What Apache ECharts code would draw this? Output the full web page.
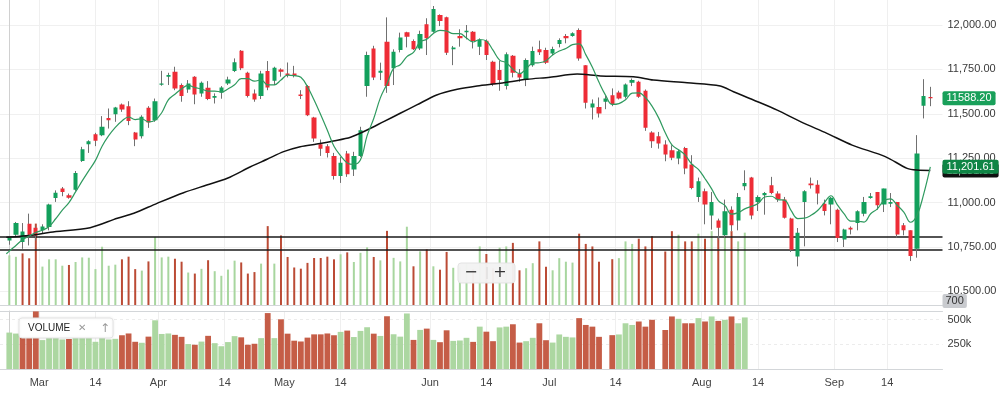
<!DOCTYPE html>
<html><head><meta charset="utf-8">
<script src="https://cdn.jsdelivr.net/npm/echarts@6/dist/echarts.min.js"></script>
<style>html,body{margin:0;padding:0;background:#fff}#c{width:1000px;height:394px}</style>
</head><body><div id="c"></div>
<script>
// ---- DATA (one entry per trading slot, index 0..139) ----
const open = [
10787,10819,10778,10881,10859,10844,10863,11026,11079,11041,
11073,11235,11329,11385,11380,11477,11498,11553,11543,11395,
11374,11534,11464,11663,11709,11737,11662,11637,11709,11615,
11647,11590,11618,11671,11741,11855,11731,11615,11601,11741,
11686,11750,11727,11727,11609,11656,11479,11329,11318,11263,
11150,11276,11186,11263,11656,11868,11731,11906,11756,11859,
11959,11910,11868,12004,11962,12056,12043,11863,11938,11959,
11962,11878,11912,11793,11746,11656,11827,11727,11690,11774,
11863,11859,11840,11893,11938,11938,11972,11774,11536,11539,
11568,11605,11620,11596,11675,11680,11630,11395,11374,11327,
11295,11248,11308,11214,11032,11064,10928,10900,10816,10960,
10900,11092,11141,11004,11041,11098,11051,11017,10910,10697,
11004,11107,11101,10994,10989,10960,10793,10859,10885,10938,
11026,11060,10990,10994,11004,10872,10844,10740,11545,11595];
const close = [
10801,10885,10838,10819,10815,10866,10990,11056,11060,11028,
11167,11301,11346,11348,11427,11464,11536,11524,11460,11355,
11483,11451,11571,11670,11718,11643,11600,11671,11609,11675,
11583,11601,11648,11693,11791,11756,11600,11581,11727,11648,
11759,11737,11718,11714,11601,11492,11361,11304,11280,11150,
11224,11160,11263,11408,11831,11705,11742,11656,11850,11929,
11934,11863,11949,11925,12090,12023,11844,11874,11925,11968,
11910,11915,11831,11667,11690,11836,11731,11705,11803,11853,
11846,11788,11865,11915,11925,11953,11812,11562,11558,11502,
11586,11555,11586,11665,11690,11596,11421,11346,11333,11271,
11252,11289,11192,11083,11120,10989,11003,10859,10951,10872,
11032,11111,10928,11032,11054,11054,11017,10915,10735,10831,
11064,11098,11051,10953,11028,10801,10848,10848,10951,11004,
11036,10985,11079,11004,10821,10844,10699.85,11276,11600,11588.2];
const low = [
10763,10810,10740,10759,10787,10825,10844,11004,11036,11022,
11066,11229,11280,11318,11374,11417,11455,11511,11436,11318,
11361,11421,11455,11658,11662,11633,11568,11618,11554,11596,
11577,11558,11585,11662,11735,11746,11592,11568,11583,11633,
11662,11709,11705,11705,11583,11487,11342,11263,11254,11130,
11111,11145,11150,11257,11596,11690,11690,11618,11662,11846,
11874,11859,11859,11831,11957,11994,11831,11774,11878,11919,
11868,11831,11803,11656,11630,11637,11705,11680,11656,11765,
11831,11780,11831,11874,11897,11934,11799,11530,11468,11479,
11526,11543,11581,11586,11656,11590,11404,11308,11304,11233,
11239,11216,11160,11075,11004,10878,10848,10791,10802,10840,
10844,11070,10906,10953,10932,11047,11004,10910,10722,10641,
10754,11079,10990,10928,10878,10778,10750,10821,10844,10923,
11022,10960,10947,10975,10802,10816,10671,10690,11474,11543];
const high = [
10810,10891,10885,10938,10866,10878,10994,11069,11088,11051,
11178,11314,11351,11393,11487,11530,11539,11558,11571,11398,
11492,11543,11586,11742,11731,11765,11671,11690,11712,11682,
11684,11615,11656,11709,11812,11859,11737,11637,11742,11797,
11765,11756,11789,11770,11633,11662,11483,11355,11329,11280,
11257,11291,11286,11427,11850,11883,11788,12043,11863,11957,
11962,11919,11968,12038,12107,12060,12047,11882,11976,12000,
11966,11925,11919,11799,11799,11846,11831,11752,11812,11878,
11912,11872,11878,11925,11949,11959,11981,11774,11581,11592,
11600,11643,11630,11671,11699,11686,11637,11402,11398,11351,
11323,11299,11314,11267,11141,11079,11060,10910,11017,10979,
11054,11182,11145,11041,11060,11145,11064,11032,10915,10857,
11070,11141,11126,11017,11032,10966,10853,10866,10957,11032,
11054,11060,11079,11054,11004,10885,10844,11380,11695,11652];
// volume for the first 112 slots (null = no bar)
const volume = [
368000,358000,381000,348000,582000,292000,341000,341000,298000,303000,
323000,354000,352000,275000,426000,298000,305000,341000,359000,275000,
265000,327000,492000,354000,359000,345000,325000,252000,245000,277000,
335000,261000,230000,272000,332000,320000,245000,255000,312000,565000,
312000,502000,357000,286000,278000,317000,350000,350000,359000,341000,
375000,388000,323000,385000,422000,357000,334000,533000,351000,327000,
561000,294000,395000,408000,294000,271000,391000,284000,288000,315000,
274000,428000,377000,281000,420000,428000,452000,267000,281000,315000,
462000,291000,267000,349000,325000,319000,514000,445000,428000,325000,
null,342000,349000,462000,445000,480000,428000,497000,null,394000,
531000,507000,462000,462000,514000,480000,531000,486000,497000,531000,
462000,521000];
const lastVolume = 700;
// 5-period average before enough visible history exists
const ma5LeadSlots = [-0.45, 0, 1, 2, 3];
const ma5LeadValues = [10712, 10727, 10759, 10791, 10812];
// long moving average (black), read at these slots
const longMaSlots = [-0.45,3.7,6.2,12.2,16.3,18.8,22.3,26.3,29.8,32.9,36.4,38.9,41.4,43.9,46.4,48.9,51.5,54,56.5,59,61.5,64.5,67.6,70.6,74.1,78.1,81.6,85.7,89.2,94.2,97.2,102.3,107.3,109.3,112.3,115.9,119.4,123.4,127.2,132.2,135.5,137,139];
const longMaValues = [10805,10818,10833,10859,10912,10940,10996,11056,11099,11137,11202,11244,11287,11315,11330,11347,11368,11409,11456,11503,11550,11606,11638,11657,11672,11694,11706,11724,11713,11709,11690,11675,11657,11624,11578,11521,11456,11390,11324,11259,11193,11183,11181];
const levelLines = [10807, 10736];
const priceTicks = [10500, 10750, 11000, 11250, 11500, 11750, 12000];
const volumeTicks = [250000, 500000];
const xTickSlots = [4.5, 13, 22.5, 32.5, 41.5, 50, 63.5, 72, 81.5, 91.5, 104.5, 113, 124.5, 132.5];
const xTickLabels = ['Mar','14','Apr','14','May','14','Jun','14','Jul','14','Aug','14','Sep','14'];

// ---- build ----
const n = close.length;
const candleData = close.map((c, i) => [i, open[i], c, low[i], high[i]]);
const ma5 = ma5LeadSlots.map((s, i) => [s, ma5LeadValues[i]]);
for (let i = 4; i < n; i++) {
  let s = 0; for (let k = i - 4; k <= i; k++) s += close[k];
  ma5.push([i, s / 5]);
}
const longMa = longMaSlots.map((s, i) => [s, longMaValues[i]]);
const volData = [];
volume.forEach((v, i) => { if (v != null) volData.push([i, v]); });
const isUp = i => i === 0 ? close[0] >= open[0] : close[i] >= close[i - 1];

function fmt(v) {
  const s = v.toFixed(2); const p = s.split('.');
  return p[0].replace(/\B(?=(\d{3})+(?!\d))/g, ',') + '.' + p[1];
}
const FONT = '"Liberation Sans", Arial, sans-serif';
const UP = '#12a05c', DOWN = '#ee2c36', WICK = '#707070';
const VUP = '#a8d69f', VDOWN = '#bb4b35';
const VUP2 = '#acd7a1', VDOWN2 = '#c55d47';
const X_MIN = -1.405, X_MAX = 140.84;
const GRID_RIGHT = 57.5;
const THIN_VOL_MIN = 33000, THIN_VOL_MAX = 2090000;
const HIDDEN_LINE = {color: 'rgba(0,0,0,0)', width: 0.01};

const chart = echarts.init(document.getElementById('c'), null, {renderer: 'canvas'});
const lastMa5 = ma5[ma5.length - 1][1];
const lastLong = longMaValues[longMaValues.length - 1];

function badge(bg, fg) {
  return {show: true, position: 'end', distance: 0, color: fg, fontSize: 11, fontFamily: FONT,
          backgroundColor: bg, padding: [2, 4, 1, 4], borderRadius: 2};
}

chart.setOption({
  animation: false,
  backgroundColor: '#ffffff',
  textStyle: {fontFamily: FONT},
  grid: [
    {left: 0, right: GRID_RIGHT, top: 0, height: 305, outerBoundsMode: 'none', containLabel: false},
    {left: 0, right: GRID_RIGHT, top: 311, height: 58, outerBoundsMode: 'none', containLabel: false}
  ],
  xAxis: [
    {type: 'value', gridIndex: 0, min: X_MIN, max: X_MAX, scale: true,
     axisLine: {show: true, onZero: false, lineStyle: {color: '#d3d6d9', width: 1}},
     axisTick: {show: false, customValues: xTickSlots},
     axisLabel: {show: false, customValues: xTickSlots},
     splitLine: {show: true, lineStyle: {color: '#efefef', width: 1}}},
    {type: 'value', gridIndex: 1, min: X_MIN, max: X_MAX, scale: true, position: 'bottom',
     axisLine: {show: true, onZero: false, lineStyle: {color: '#d3d6d9', width: 1}},
     axisTick: {show: false, customValues: xTickSlots},
     axisLabel: {show: true, customValues: xTickSlots, margin: 8, color: '#444', fontSize: 11, fontFamily: FONT,
                 formatter: v => { const k = xTickSlots.findIndex(t => Math.abs(t - v) < 1e-6); return k >= 0 ? xTickLabels[k] : ''; }},
     splitLine: {show: true, lineStyle: {color: '#efefef', width: 1}}},
    {type: 'value', gridIndex: 1, min: X_MIN, max: X_MAX, position: 'top',
     axisLine: {show: true, onZero: false, lineStyle: {color: '#d3d6d9', width: 1}},
     axisTick: {show: false}, axisLabel: {show: false}, splitLine: {show: false}}
  ],
  yAxis: [
    {type: 'value', gridIndex: 0, position: 'right', min: 10423.6, max: 12140.8,
     axisLine: {show: true, lineStyle: {color: '#d0d0d0'}},
     axisTick: {show: false, customValues: priceTicks},
     axisLabel: {margin: 5, color: '#3a3a3a', fontSize: 11, fontFamily: FONT, customValues: priceTicks,
                 formatter: v => fmt(v)},
     splitLine: {show: true, lineStyle: {color: '#f0f0f0'}}},
    {type: 'value', gridIndex: 0, position: 'right', min: THIN_VOL_MIN, max: THIN_VOL_MAX, show: false,
     splitLine: {show: false}},
    {type: 'value', gridIndex: 1, position: 'right', min: 0, max: 586000,
     axisLine: {show: true, lineStyle: {color: '#d0d0d0'}},
     axisTick: {show: false, customValues: volumeTicks},
     axisLabel: {margin: 5, color: '#3a3a3a', fontSize: 11, fontFamily: FONT, customValues: volumeTicks,
                 formatter: v => (v / 1000) + 'k'},
     splitLine: {show: true, lineStyle: {color: '#ececec', type: [3, 3]}}}
  ],
  series: [
    {type: 'bar', name: 'vol-thin', xAxisIndex: 0, yAxisIndex: 1, data: volData, barWidth: 2, z: 1, clip: true,
     itemStyle: {color: p => isUp(p.data[0]) ? VUP : VDOWN},
     markLine: {silent: true, symbol: 'none', z: 6, data: [{yAxis: Math.max(lastVolume, THIN_VOL_MIN)}],
       lineStyle: HIDDEN_LINE,
       label: Object.assign(badge('#c9cbcf', '#333'), {formatter: String(lastVolume), padding: [2, 3, 1, 3], offset: [0, -4]})}},
    {type: 'bar', name: 'vol', xAxisIndex: 1, yAxisIndex: 2, data: volData, barWidth: 5.8, z: 1,
     itemStyle: {color: p => isUp(p.data[0]) ? VUP2 : VDOWN2}},
    {type: 'candlestick', name: 'wick', xAxisIndex: 0, yAxisIndex: 0, data: candleData, encode: {x: 0, y: [1, 2, 3, 4]},
     barWidth: 1, z: 3,
     itemStyle: {color: WICK, color0: WICK, borderColor: WICK, borderColor0: WICK, borderWidth: 1},
     markLine: {silent: true, symbol: 'none', z: 3, label: {show: false},
       lineStyle: {color: '#1a1a1a', width: 1.5, type: 'solid'},
       data: levelLines.map(v => ({yAxis: v}))}},
    {type: 'candlestick', name: 'body', xAxisIndex: 0, yAxisIndex: 0, data: candleData, encode: {x: 0, y: [1, 2, 3, 4]},
     barWidth: 4.8, z: 4,
     itemStyle: {color: UP, color0: DOWN, borderColor: UP, borderColor0: DOWN, borderWidth: 0},
     markLine: {silent: true, symbol: 'none', z: 9, data: [{yAxis: close[n - 1]}],
       lineStyle: HIDDEN_LINE,
       label: Object.assign(badge('#19a05a', '#fff'), {formatter: close[n - 1].toFixed(2)})}},
    {type: 'line', name: 'long ma', xAxisIndex: 0, yAxisIndex: 0, data: longMa, smooth: 0.3, showSymbol: false, z: 5,
     lineStyle: {color: '#111', width: 1.5},
     markLine: {silent: true, symbol: 'none', z: 7, data: [{yAxis: lastLong}],
       lineStyle: HIDDEN_LINE,
       label: Object.assign(badge('#111', '#fff'), {formatter: fmt(lastLong)})}},
    {type: 'line', name: 'ma5', xAxisIndex: 0, yAxisIndex: 0, data: ma5, smooth: 0.4, showSymbol: false, z: 6,
     lineStyle: {color: '#2f9a5f', width: 1.2},
     markLine: {silent: true, symbol: 'none', z: 8, data: [{yAxis: lastMa5}],
       lineStyle: HIDDEN_LINE,
       label: Object.assign(badge('#0f8545', '#fff'), {formatter: fmt(lastMa5)})}}
  ],
  graphic: {elements: [
    {type: 'group', x: 19, y: 318, z: 100, children: [
      {type: 'rect', z: 100, shape: {x: 0, y: 0, width: 94, height: 20, r: 3},
       style: {fill: '#ffffff', stroke: '#e4e4e4', lineWidth: 1, shadowBlur: 3, shadowColor: 'rgba(0,0,0,0.08)'}},
      {type: 'text', z: 101, x: 9, y: 10.5, style: {text: 'VOLUME', fill: '#222', font: '10px ' + FONT, verticalAlign: 'middle', textVerticalAlign: 'middle'}},
      {type: 'text', z: 101, x: 59, y: 10.5, style: {text: '✕', fill: '#9a9a9a', font: '10px "DejaVu Sans"', verticalAlign: 'middle', textVerticalAlign: 'middle'}},
      {type: 'text', z: 101, x: 81, y: 10.5, style: {text: '↑', fill: '#9a9a9a', font: '12px "DejaVu Sans"', verticalAlign: 'middle', textVerticalAlign: 'middle'}}
    ]},
    {type: 'group', x: 458, y: 263, z: 100, children: [
      {type: 'rect', z: 100, shape: {x: 0, y: 0, width: 57, height: 20, r: 3},
       style: {fill: 'rgba(243,243,243,0.97)', stroke: 'rgba(225,225,225,0.9)', lineWidth: 1}},
      {type: 'text', z: 101, x: 13, y: 10, style: {text: '−', fill: '#333', font: '16px "DejaVu Sans"', verticalAlign: 'middle', textVerticalAlign: 'middle', align: 'center', textAlign: 'center'}},
      {type: 'line', z: 101, shape: {x1: 29, y1: 4, x2: 29, y2: 16}, style: {stroke: '#d8d8d8', lineWidth: 1}},
      {type: 'text', z: 101, x: 42, y: 10, style: {text: '+', fill: '#333', font: '16px "DejaVu Sans"', verticalAlign: 'middle', textVerticalAlign: 'middle', align: 'center', textAlign: 'center'}}
    ]}
  ]}
});
</script></body></html>
